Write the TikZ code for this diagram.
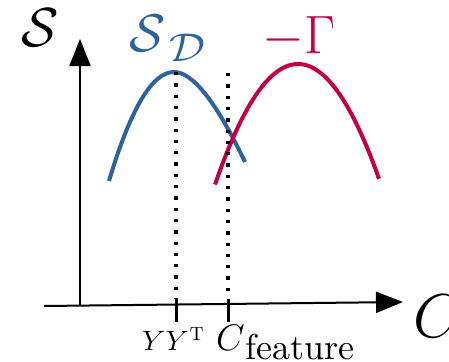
\RequirePackage{fix-cm}
\documentclass[tikz,border=0pt]{standalone}
\usepackage{graphicx}
\usetikzlibrary{arrows.meta}
\definecolor{sdblue}{RGB}{44,98,158}
\definecolor{gamred}{RGB}{196,0,68}
\font\featfont="[lmroman10-regular]:+tlig;" at 36pt
\font\supfont="[lmroman10-regular]:+tlig;" at 19pt
\begin{document}
\begin{tikzpicture}[x=1pt,y=-1pt,
  axis/.style={line width=2pt,-{Triangle[length=27pt,width=21pt]}},
  tickmark/.style={line width=3pt},
  guide/.style={line width=3.3pt,dash pattern=on 3.3pt off 8pt},
  curve/.style={line width=4pt},
  lbl/.style={inner sep=0pt,anchor=base west}]
\useasboundingbox (0,0) rectangle (449,361);
% axes
\coordinate (o) at (80,305);
\coordinate (ytip) at (80,39);
\coordinate (xstart) at (44,306);
\coordinate (xtip) at (403,302);
\draw[axis] (o) -- (ytip);
\draw[axis] (xstart) -- (xtip);
% curves
\coordinate (bl) at (109,181);
\coordinate (bp) at (174,72);
\coordinate (br) at (245,162);
\draw[curve,sdblue] (bl) .. controls (130.67,108.33) and (152.33,72) .. (bp)
   .. controls (192.67,72) and (216.33,102) .. (br);
\draw[curve,gamred] plot[domain=215:379,samples=80] (\x,{64+0.0175*(\x-298)^2});
% ticks and guides
\coordinate (ta) at (176,299);
\coordinate (tab) at (176,322);
\coordinate (ga) at (176,72);
\coordinate (tb) at (228,299);
\coordinate (tbb) at (228,322);
\coordinate (gb) at (228,73);
\draw[tickmark] (ta) -- (tab);
\draw[tickmark] (tb) -- (tbb);
\draw[guide] (ga) -- (ta);
\draw[guide] (gb) -- (tb);
% labels
\node[lbl,font=\fontsize{55}{60}\selectfont] (ylab) at (21,46) {$\mathcal{S}$};
\node[lbl,text=sdblue] (sdlab) at (129,52)
  {\fontsize{53}{60}\selectfont$\mathcal{S}$\kern4pt\raisebox{-10pt}{\scalebox{1.12}[1]{\fontsize{40}{46}\selectfont$\mathcal{D}$}}};
\node[lbl,text=gamred,font=\fontsize{54}{60}\selectfont] (glab) at (262,53) {$-\Gamma$};
\node[lbl,font=\fontsize{62}{70}\selectfont] (xlab) at (413,337) {$C$};
\node[lbl] (yyt) at (142,350)
  {\scalebox{1.06}[1]{\fontsize{28}{30}\selectfont$YY$}\kern1pt\raisebox{10pt}{\supfont T}};
\node[lbl] (cf) at (216,350)
  {\fontsize{37}{40}\selectfont$C$\kern1pt\raisebox{-9pt}{\featfont feature}};
\end{tikzpicture}
\end{document}
